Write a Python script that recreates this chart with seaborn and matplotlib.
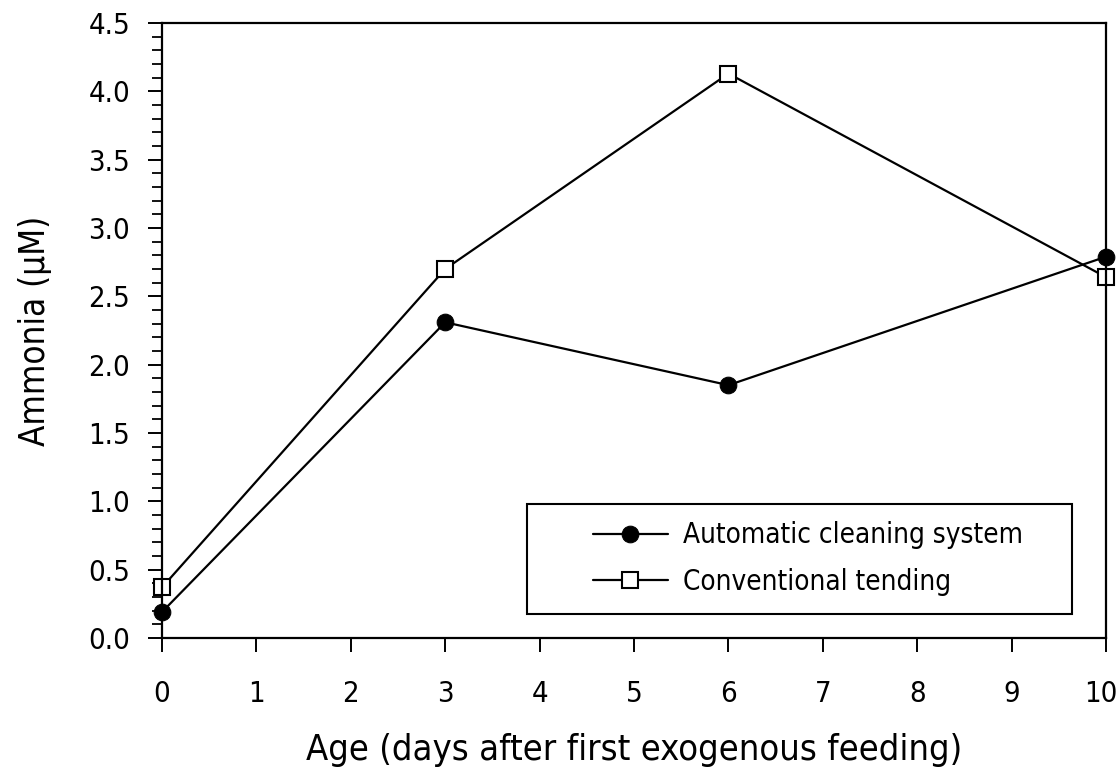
import numpy as np
import pandas as pd
import seaborn as sns
import matplotlib.pyplot as plt
import matplotlib.transforms as mtrans
from matplotlib import font_manager as fm
from matplotlib.ticker import MultipleLocator
from matplotlib.legend_handler import HandlerLine2D

# values
age = [0, 3, 6, 10]
automatic = [0.19, 2.31, 1.85, 2.79]
conventional = [0.37, 2.70, 4.13, 2.64]

sns.set_style("ticks")
# narrow sans like the original (DejaVu Sans Condensed if present)
cond = [f for f in fm.fontManager.ttflist
        if f.name == 'DejaVu Sans' and 'Condensed' in f.fname]
if cond:
    plt.rcParams['font.family'] = ['DejaVu Sans']
    plt.rcParams['font.stretch'] = 'condensed'
else:
    plt.rcParams['font.family'] = ['Liberation Sans', 'DejaVu Sans']
for k in ['text.color', 'axes.labelcolor', 'xtick.color', 'ytick.color',
          'axes.edgecolor']:
    plt.rcParams[k] = 'black'


class ShiftedLine(HandlerLine2D):
    # draw the sample line in the right part of the handle box only
    def create_artists(self, legend, orig_handle, xdescent, ydescent, width,
                       height, fontsize, trans):
        shift = width * 0.39
        return super().create_artists(legend, orig_handle, xdescent - shift,
                                      ydescent, width - shift, height,
                                      fontsize, trans)


df = pd.DataFrame({'age': age, 'auto': automatic, 'conv': conventional})

fig = plt.figure(figsize=(11.18, 7.72), dpi=100)
ax = fig.add_axes([0.1449, 0.1736, 0.8444, 0.7966])

sns.lineplot(data=df, x='age', y='auto', ax=ax, color='black', lw=1.6,
             marker='o', markersize=12, markerfacecolor='black',
             markeredgecolor='black', label='Automatic cleaning system')
sns.lineplot(data=df, x='age', y='conv', ax=ax, color='black', lw=1.6,
             marker='s', markersize=12, markerfacecolor='white',
             markeredgecolor='black', markeredgewidth=1.5,
             label='Conventional tending')

ax.set_xlim(0, 10)
ax.set_ylim(0, 4.5)
ax.set_xticks(range(0, 11))
ax.yaxis.set_major_locator(MultipleLocator(0.5))
ax.yaxis.set_minor_locator(MultipleLocator(0.1))
ax.yaxis.set_major_formatter(plt.FormatStrFormatter('%.1f'))
for s in ax.spines.values():
    s.set_linewidth(1.6)
    s.set_color('black')
ax.tick_params(axis='both', which='major', length=10, width=1.4, color='black',
               labelsize=21, labelcolor='black')
ax.tick_params(axis='x', pad=20)
ax.tick_params(axis='y', pad=13)
ax.tick_params(axis='y', which='minor', length=7, width=1.3, color='black')
for ln in ax.lines:
    ln.set_clip_on(False)

# last x label sits at the right edge, nudge it in a little
last = ax.get_xticklabels()[-1]
last.set_transform(last.get_transform() +
                   mtrans.ScaledTranslation(-4 / 72, 0, fig.dpi_scale_trans))

ax.set_xlabel('Age (days after first exogenous feeding)', fontsize=26,
              labelpad=18, color='black')
ax.set_ylabel('Ammonia (\u00b5M)', fontsize=25, labelpad=26, color='black')

leg = ax.legend(loc='lower left', bbox_to_anchor=(0.3867, 0.039, 0.5773, 0.177),
                mode='expand', borderaxespad=0,
                fontsize=20, frameon=True, fancybox=False, edgecolor='black',
                framealpha=1, handlelength=4.42, handletextpad=0.55,
                borderpad=0.64, labelspacing=0.68,
                handler_map={plt.Line2D: ShiftedLine()})
leg.get_frame().set_linewidth(1.5)
for t in leg.get_texts():
    t.set_color('black')

fig.savefig('out.png', dpi=100)
